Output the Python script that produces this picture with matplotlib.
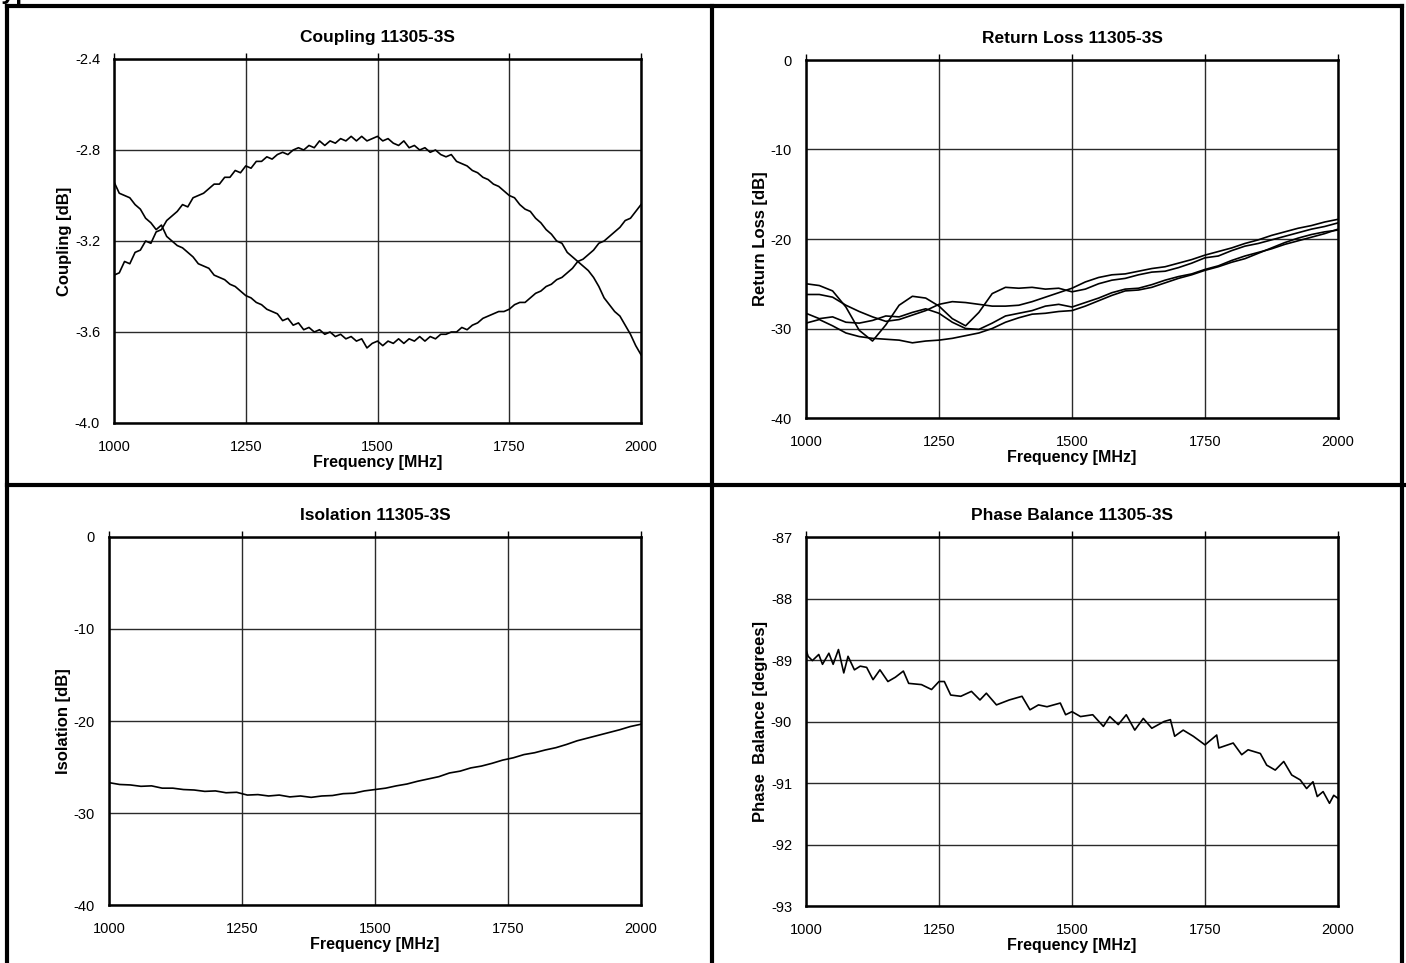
import numpy as np
import matplotlib
matplotlib.use("Agg")
import matplotlib.pyplot as plt
from matplotlib.lines import Line2D

plt.rcParams["font.family"] = ["Liberation Sans", "DejaVu Sans"]

# ---- data ----
freq_10 = list(range(1000, 2001, 10))
coupling_a = [-3.35, -3.34, -3.29, -3.30, -3.25, -3.24, -3.20, -3.21, -3.16, -3.15,
              -3.11, -3.09, -3.07, -3.04, -3.05, -3.01, -3.00, -2.99, -2.97, -2.95,
              -2.95, -2.92, -2.92, -2.89, -2.90, -2.87, -2.88, -2.85, -2.85, -2.83,
              -2.84, -2.82, -2.81, -2.82, -2.80, -2.79, -2.80, -2.78, -2.79, -2.76,
              -2.78, -2.76, -2.77, -2.75, -2.76, -2.74, -2.76, -2.74, -2.76, -2.75,
              -2.74, -2.76, -2.75, -2.77, -2.78, -2.76, -2.79, -2.78, -2.80, -2.79,
              -2.81, -2.80, -2.82, -2.83, -2.82, -2.85, -2.86, -2.87, -2.89, -2.90,
              -2.92, -2.93, -2.95, -2.96, -2.98, -3.00, -3.01, -3.04, -3.06, -3.07,
              -3.10, -3.12, -3.15, -3.17, -3.20, -3.21, -3.25, -3.27, -3.29, -3.31,
              -3.33, -3.36, -3.40, -3.45, -3.48, -3.51, -3.53, -3.57, -3.61, -3.66,
              -3.70]
coupling_b = [-2.94, -2.99, -3.00, -3.01, -3.04, -3.06, -3.10, -3.12, -3.15, -3.13,
              -3.18, -3.20, -3.22, -3.23, -3.25, -3.27, -3.30, -3.31, -3.32, -3.35,
              -3.36, -3.37, -3.39, -3.40, -3.42, -3.44, -3.45, -3.47, -3.48, -3.50,
              -3.51, -3.52, -3.55, -3.54, -3.57, -3.56, -3.59, -3.58, -3.60, -3.59,
              -3.61, -3.60, -3.62, -3.61, -3.63, -3.62, -3.64, -3.63, -3.67, -3.65,
              -3.64, -3.66, -3.64, -3.65, -3.63, -3.65, -3.63, -3.64, -3.62, -3.64,
              -3.62, -3.63, -3.61, -3.61, -3.60, -3.60, -3.58, -3.59, -3.57, -3.56,
              -3.54, -3.53, -3.52, -3.51, -3.51, -3.50, -3.48, -3.47, -3.47, -3.45,
              -3.43, -3.42, -3.40, -3.39, -3.37, -3.36, -3.34, -3.32, -3.29, -3.28,
              -3.26, -3.24, -3.21, -3.20, -3.18, -3.16, -3.14, -3.11, -3.10, -3.07,
              -3.04]

freq_25 = list(range(1000, 2001, 25))
rl_1 = [-25.0, -25.2, -25.8, -27.6, -30.2, -31.4, -29.6, -27.4, -26.4, -26.6,
        -27.5, -28.9, -29.7, -28.2, -26.1, -25.4, -25.5, -25.4, -25.6, -25.5,
        -25.9, -25.6, -25.0, -24.6, -24.4, -24.0, -23.7, -23.6, -23.2, -22.7,
        -22.1, -21.9, -21.3, -20.8, -20.5, -20.1, -19.7, -19.3, -18.9, -18.6,
        -18.2]
rl_2 = [-26.2, -26.2, -26.5, -27.4, -28.1, -28.7, -29.2, -29.0, -28.5, -28.0,
        -27.3, -27.0, -27.1, -27.3, -27.5, -27.5, -27.4, -27.0, -26.5, -26.0,
        -25.5, -24.8, -24.3, -24.0, -23.9, -23.6, -23.3, -23.1, -22.7, -22.3,
        -21.8, -21.4, -21.0, -20.5, -20.1, -19.6, -19.2, -18.8, -18.5, -18.1,
        -17.8]
rl_3 = [-28.3, -28.9, -28.7, -29.3, -29.4, -29.1, -28.6, -28.7, -28.2, -27.8,
        -28.3, -29.3, -30.0, -30.1, -29.4, -28.6, -28.3, -28.0, -27.5, -27.3,
        -27.6, -27.1, -26.6, -26.0, -25.6, -25.5, -25.1, -24.6, -24.2, -23.9,
        -23.4, -23.0, -22.4, -21.9, -21.5, -21.1, -20.6, -20.2, -19.8, -19.4,
        -18.9]
rl_4 = [-29.4, -29.0, -29.7, -30.5, -30.9, -31.1, -31.2, -31.3, -31.6, -31.4,
        -31.3, -31.1, -30.8, -30.5, -30.0, -29.3, -28.8, -28.4, -28.3, -28.1,
        -28.0, -27.5, -26.9, -26.3, -25.8, -25.7, -25.4, -24.9, -24.4, -24.0,
        -23.5, -23.1, -22.6, -22.2, -21.6, -21.0, -20.4, -19.9, -19.5, -19.2,
        -19.0]

freq_20 = list(range(1000, 2001, 20))
isolation = [-26.7, -26.9, -26.95, -27.1, -27.05, -27.3, -27.3, -27.45, -27.5, -27.65,
             -27.6, -27.8, -27.75, -28.05, -28.0, -28.15, -28.05, -28.25, -28.15, -28.3,
             -28.15, -28.1, -27.9, -27.85, -27.6, -27.45, -27.3, -27.05, -26.85, -26.55,
             -26.3, -26.05, -25.65, -25.45, -25.1, -24.9, -24.6, -24.25, -24.0, -23.65,
             -23.45, -23.15, -22.9, -22.55, -22.15, -21.85, -21.55, -21.25, -20.95, -20.6,
             -20.35]

phase_freq = [1000, 1004, 1012, 1024, 1031, 1043, 1051, 1061, 1071, 1079,
              1091, 1102, 1114, 1126, 1139, 1154, 1168, 1183, 1193, 1217,
              1236, 1250, 1260, 1272, 1291, 1311, 1327, 1339, 1358, 1382,
              1406, 1421, 1437, 1453, 1478, 1488, 1500, 1516, 1539, 1559,
              1571, 1587, 1602, 1618, 1634, 1650, 1673, 1685, 1693, 1709,
              1728, 1750, 1772, 1776, 1803, 1819, 1831, 1854, 1866, 1882,
              1898, 1913, 1929, 1941, 1953, 1961, 1972, 1984, 1992, 2000]
phase = [-88.83, -88.94, -89.01, -88.91, -89.07, -88.89, -89.07, -88.83, -89.21, -88.94,
         -89.16, -89.10, -89.12, -89.32, -89.16, -89.35, -89.28, -89.18, -89.38, -89.40,
         -89.48, -89.35, -89.35, -89.57, -89.59, -89.51, -89.65, -89.54, -89.73, -89.65,
         -89.59, -89.81, -89.73, -89.76, -89.70, -89.89, -89.84, -89.92, -89.89, -90.08,
         -89.92, -90.05, -89.89, -90.14, -89.95, -90.11, -90.00, -89.97, -90.24, -90.14,
         -90.24, -90.38, -90.22, -90.43, -90.35, -90.54, -90.46, -90.52, -90.71, -90.79,
         -90.65, -90.87, -90.95, -91.09, -90.98, -91.22, -91.14, -91.33, -91.20, -91.25]

freq_ticks = [1000, 1250, 1500, 1750, 2000]

W, H = 1406, 963
fig = plt.figure(figsize=(W / 100, H / 100), dpi=100)


def box(left, top, right, bottom):
    # axes rectangle given in pixel coordinates of the reference
    return [left / W, 1 - bottom / H, (right - left) / W, (bottom - top) / H]


def style(ax, title, ylabel, ylim, yticks, yfmt):
    ax.set_xlim(1000, 2000)
    ax.set_ylim(*ylim)
    ax.set_xticks(freq_ticks)
    ax.set_yticks(yticks)
    ax.set_yticklabels([yfmt.format(v) for v in yticks])
    ax.grid(True, color="#2a2a2a", linewidth=1.0)
    for s in ax.spines.values():
        s.set_linewidth(1.8)
        s.set_color("black")
    ax.tick_params(axis="x", top=True, bottom=False, labelbottom=True,
                   direction="out", length=4, width=1, pad=8, labelsize=10.5)
    ax.tick_params(axis="y", left=False, length=0, pad=10, labelsize=10.5)
    ax.set_title(title, fontsize=12.5, fontweight="bold", pad=12)
    ax.set_xlabel("Frequency [MHz]", fontsize=11.5, fontweight="bold", labelpad=1)
    ax.set_ylabel(ylabel, fontsize=12, fontweight="bold", labelpad=2)


ax1 = fig.add_axes(box(114, 59, 641, 423))
ax1.plot(freq_10, coupling_a, color="black", lw=1.2)
ax1.plot(freq_10, coupling_b, color="black", lw=1.2)
style(ax1, "Coupling 11305-3S", "Coupling [dB]", (-4.0, -2.4),
      [-4.0, -3.6, -3.2, -2.8, -2.4], "{:.1f}")

ax2 = fig.add_axes(box(806, 60, 1338, 418))
for rl in [rl_1, rl_2, rl_3, rl_4]:
    ax2.plot(freq_25, rl, color="black", lw=1.2)
style(ax2, "Return Loss 11305-3S", "Return Loss [dB]", (-40, 0),
      [-40, -30, -20, -10, 0], "{:d}")

ax3 = fig.add_axes(box(109, 537, 641, 905))
ax3.plot(freq_20, isolation, color="black", lw=1.2)
style(ax3, "Isolation 11305-3S", "Isolation [dB]", (-40, 0),
      [-40, -30, -20, -10, 0], "{:d}")

ax4 = fig.add_axes(box(806, 537, 1338, 906))
ax4.plot(phase_freq, phase, color="black", lw=1.2)
style(ax4, "Phase Balance 11305-3S", "Phase  Balance [degrees]", (-93, -87),
      [-93, -92, -91, -90, -89, -88, -87], "{:d}")

# outer frame and dividers of the table layout
frame = dict(color="black", lw=3, transform=fig.transFigure, clip_on=False)
fig.add_artist(Line2D([7 / W, 7 / W], [0, 1 - 6 / H], **frame))
fig.add_artist(Line2D([1402 / W, 1402 / W], [0, 1 - 6 / H], **frame))
fig.add_artist(Line2D([7 / W, 1402 / W], [1 - 6 / H, 1 - 6 / H], **frame))
fig.add_artist(Line2D([712 / W, 712 / W], [0, 1 - 6 / H], **frame))
fig.add_artist(Line2D([7 / W, 1.0], [1 - 485 / H, 1 - 485 / H], **frame))

# heading cut off at the top edge of the picture (only descenders show)
fig.text(-12 / W, 1 + 1 / H, "Typical Performance", fontsize=18,
         fontweight="bold", va="baseline", ha="left")

fig.savefig("out.png", dpi=100)
